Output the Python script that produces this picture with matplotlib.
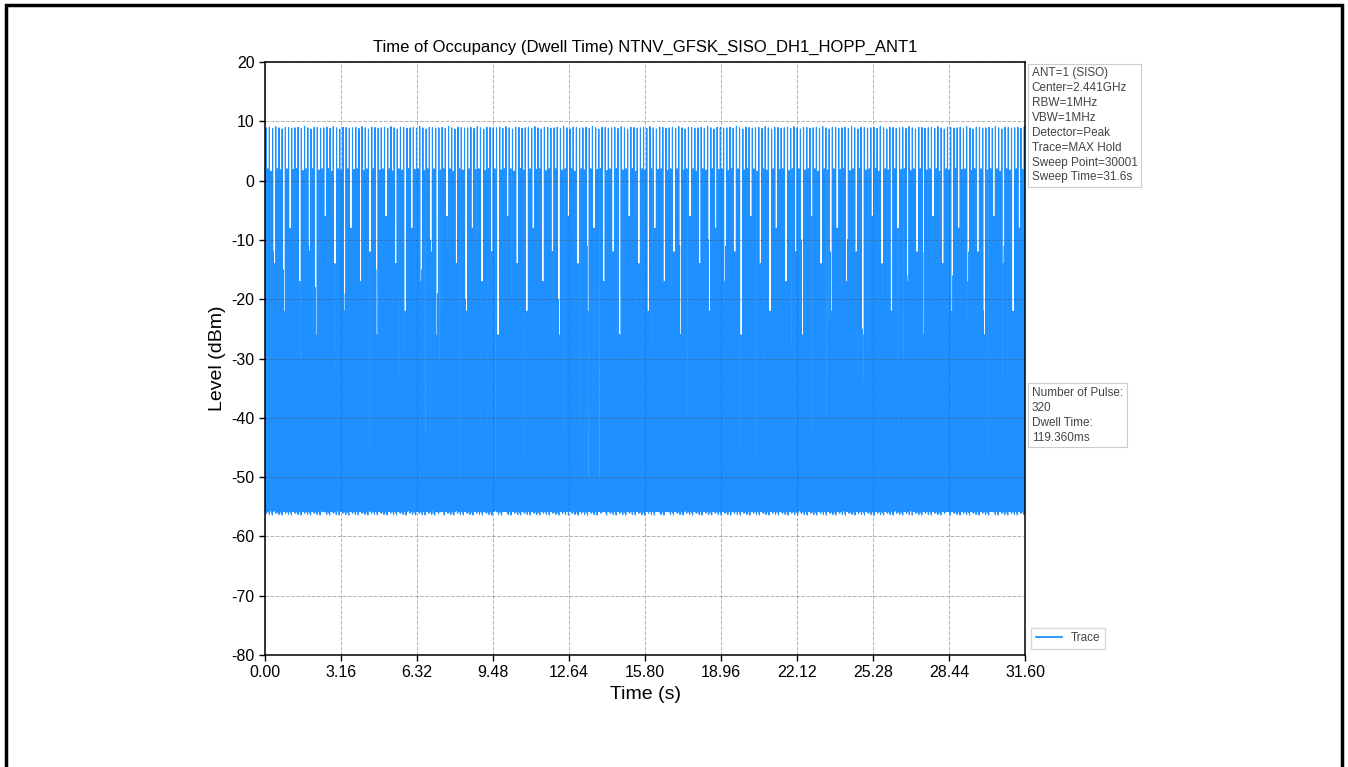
import numpy as np
import matplotlib
matplotlib.use("Agg")
import matplotlib.pyplot as plt
from matplotlib.patches import Rectangle

plt.rcParams['font.family'] = ['Liberation Sans', 'DejaVu Sans']
plt.rcParams['axes.unicode_minus'] = False

# sweep settings (from the info box)
sweep_time_s = 31.6
sweep_points = 30001
x_ticks = [0.00, 3.16, 6.32, 9.48, 12.64, 15.80, 18.96, 22.12, 25.28, 28.44, 31.60]
y_ticks = [-80, -70, -60, -50, -40, -30, -20, -10, 0, 10, 20]

# pulse train (values re-used in turn along the sweep)
hop_start_s = 0.05
hop_gap_s = [0.132, 0.135, 0.130, 0.134, 0.131, 0.136, 0.133, 0.129, 0.134, 0.132, 0.137]
tall_dbm = [8.9, 9.0, 8.8, 9.1, 8.9, 8.7, 9.0, 8.95, 8.85]
mid_dbm = [2.0, 1.6, -14, 2.0, 1.8, -22, 2.0, -8, 1.9, 2.0, -17, 1.7, 2.0, -12, 2.0, -26, 1.8, 2.0, -6]
low_dbm = [-31, -18, -40, -24, -12, -51, -45, -35, -20, -28, -15, -38, -43,
           -22, -33, -10, -47, -26, -51, -36, -19, -30, -42, -16, -25, -34, -11, -51, -29]
floor_dbm = [-53.2, -54.8, -51.6, -55.4, -52.7, -55.1, -50.8, -54.1, -53.6, -55.1, -52.2, -54.6,
             -55.2, -51.9, -53.9, -55.6, -52.9, -54.3, -50.2, -55.0, -53.4, -54.9, -52.4, -55.3,
             -51.3, -54.5, -53.0, -55.0, -52.6, -54.0, -55.3, -51.1, -53.7, -55.8, -52.0, -54.7,
             -53.1, -54.4, -52.8, -55.2, -51.7, -54.2, -53.3]
floor_dip_dbm = [-55.7, -55.4, -56.1, -55.6, -55.9, -55.3, -56.3, -55.6, -55.5, -56.0, -56.4, -55.8, -55.2]

info_text = ("ANT=1 (SISO)\nCenter=2.441GHz\nRBW=1MHz\nVBW=1MHz\nDetector=Peak\n"
             "Trace=MAX Hold\nSweep Point=30001\nSweep Time=31.6s")
result_text = "Number of Pulse:\n320\nDwell Time:\n119.360ms"

# build the trace
t = np.linspace(0, sweep_time_s, sweep_points)
level = np.resize(np.array(floor_dbm), sweep_points)
dips = np.resize(np.array(floor_dip_dbm), sweep_points // 29 + 1)
level[::29] = dips[:len(level[::29])]

def idx(ts):
    return int(round(ts / sweep_time_s * (sweep_points - 1)))

tall_t = hop_start_s + np.concatenate([[0], np.cumsum(np.resize(hop_gap_s, 400))])
tall_t = tall_t[tall_t < sweep_time_s]
for k, ts in enumerate(tall_t):
    level[idx(ts)] = tall_dbm[k % len(tall_dbm)]
    if k + 1 < len(tall_t):
        gap = tall_t[k + 1] - ts
        level[idx(ts + 0.5 * gap)] = mid_dbm[k % len(mid_dbm)]
        level[idx(ts + 0.25 * gap)] = low_dbm[(2 * k) % len(low_dbm)]
        level[idx(ts + 0.75 * gap)] = low_dbm[(2 * k + 1) % len(low_dbm)]

W, H = 1348, 767
fig = plt.figure(figsize=(W / 100, H / 100), dpi=100)
fig.patch.set_facecolor('white')
ax = fig.add_axes([265 / W, 1 - 655 / H, 760 / W, 593 / H])

ax.plot(t, level, color='#1E90FF', linewidth=0.8, label='Trace', zorder=2)

ax.set_xlim(0, sweep_time_s)
ax.set_ylim(-80, 20)
ax.set_xticks(x_ticks)
ax.set_xticklabels(["%.2f" % v for v in x_ticks])
ax.set_yticks(y_ticks)
ax.tick_params(labelsize=11.5, width=1, length=4)
ax.set_axisbelow(False)
ax.grid(True, color='#555555', alpha=0.45, linestyle='--', linewidth=0.7, zorder=3)
for s in ax.spines.values():
    s.set_linewidth(1.1)
    s.set_zorder(4)

ax.set_title("Time of Occupancy (Dwell Time) NTNV_GFSK_SISO_DH1_HOPP_ANT1", fontsize=12, pad=7)
ax.set_xlabel("Time (s)", fontsize=14)
ax.set_ylabel("Level (dBm)", fontsize=14)

box = dict(boxstyle='square,pad=0.3', fc='white', ec='#cccccc', lw=0.8)
ax.text(1.009, 0.991, info_text, transform=ax.transAxes, va='top', ha='left',
        fontsize=8.5, color='#444444', bbox=box, linespacing=1.32)
ax.text(1.009, 0.452, result_text, transform=ax.transAxes, va='top', ha='left',
        fontsize=8.5, color='#444444', bbox=box, linespacing=1.32)

leg = ax.legend(loc='lower left', bbox_to_anchor=(1.0, 0.0), fontsize=8.5,
                frameon=True, fancybox=False, edgecolor='#cccccc', handlelength=2.2)
for txt in leg.get_texts():
    txt.set_color('#444444')
for ln in leg.get_lines():
    ln.set_linewidth(1.3)

# page frame
fig.add_artist(Rectangle((6 / W, -0.05), (1342 - 6) / W, 1.05 - 5 / H, fill=False,
                         edgecolor='black', linewidth=2.5, transform=fig.transFigure))

fig.savefig("out.png", dpi=100)
